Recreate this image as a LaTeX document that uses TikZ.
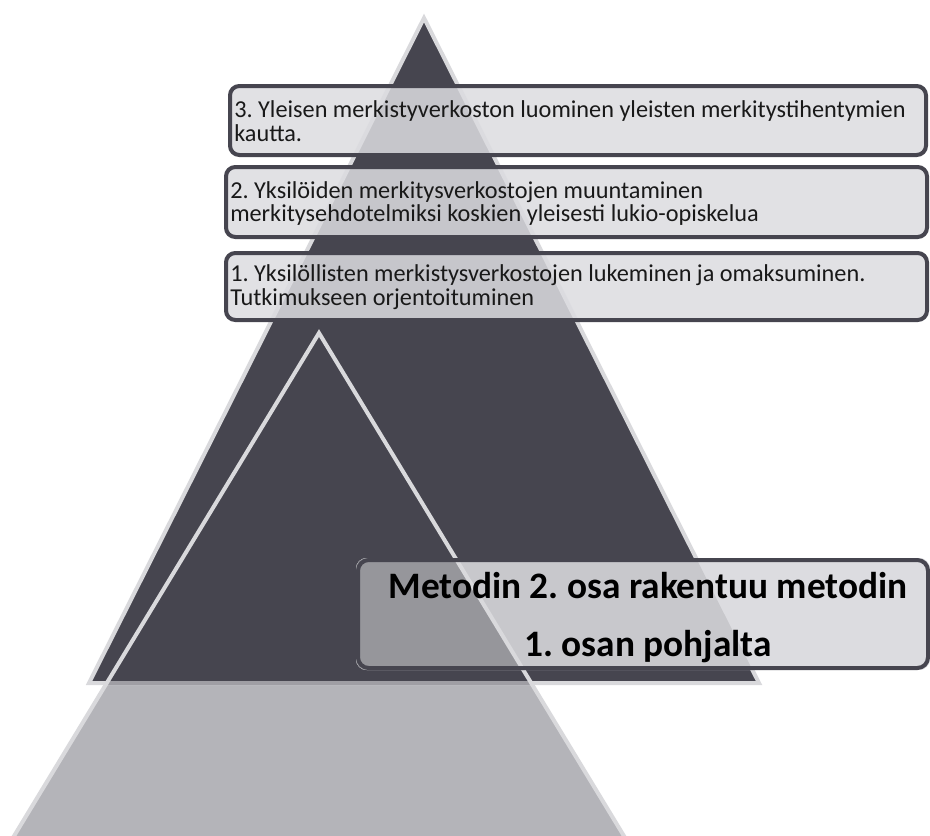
\documentclass[tikz,border=0pt]{standalone}
\usepackage{fontspec}
\setmainfont{Carlito}
\definecolor{darktri}{HTML}{46454F}
\definecolor{edgelight}{HTML}{D9D9DC}
\definecolor{greytri}{HTML}{B4B4B9}
\definecolor{boxfill}{HTML}{DCDCE0}
\definecolor{boxmid}{HTML}{C8C8CC}
\definecolor{boxdark}{HTML}{96969B}
\definecolor{stripgrey}{HTML}{9F9EA4}
\begin{document}
\frenchspacing
\begin{tikzpicture}[x=0.75pt,y=-0.75pt,
  stepbox/.style={draw=darktri, line width=3pt, rounded corners=7pt,
    fill=boxfill, fill opacity=0.86, anchor=north west, inner sep=0pt},
  steptext/.style={anchor=west, inner sep=0pt, align=left, text=black!90,
    font=\fontsize{18.2}{17.4}\selectfont\frenchspacing},
  methodbox/.style={draw=darktri, line width=3pt, rounded corners=8pt,
    minimum width=427.5pt, minimum height=81pt, inner sep=0pt},
  methodtext/.style={align=center, text=black, inner sep=0pt,
    font=\fontsize{28}{43.5}\selectfont\bfseries\frenchspacing}]
\useasboundingbox (0,0) rectangle (930,835);
\clip (0,0) rectangle (930,835);
% coordinates
\coordinate (ga) at (319,333);
\coordinate (gl) at (-46,935);
\coordinate (gr) at (684,935);
\coordinate (da) at (424,18);
\coordinate (dl) at (89,683);
\coordinate (dr) at (759,683);
% lower grey triangle
\fill[greytri] (ga) -- (gl) -- (gr) -- cycle;
% big dark triangle
\filldraw[fill=darktri, draw=edgelight, line width=3pt, line join=miter]
  (da) -- (dl) -- (dr) -- cycle;
\begin{scope}
  \clip (ga) -- (gl) -- (gr) -- cycle;
  \draw[stripgrey, line width=3pt] (dl) -- (dr);
\end{scope}
% outline of the lower triangle
\draw[edgelight, line width=3pt, line join=miter] (gl) -- (ga) -- (gr);
% three step boxes
\node[stepbox, minimum width=522pt, minimum height=51.75pt] (s3) at (228,84) {};
\node[stepbox, minimum width=525.75pt, minimum height=52.5pt] (s2) at (224,165) {};
\node[stepbox, minimum width=525.75pt, minimum height=50.25pt] (s1) at (224,251) {};
\node[steptext] (t3) at ([xshift=4.5pt,yshift=-0.5pt]s3.west)
  {3. Yleisen merkistyverkoston luominen yleisten merkitystihentymien\\kautta.};
\node[steptext] (t2) at ([xshift=4.5pt,yshift=-1pt]s2.west)
  {2. Yksilöiden merkitysverkostojen muuntaminen\\merkitysehdotelmiksi koskien yleisesti lukio-opiskelua};
\node[steptext] (t1) at ([xshift=4.5pt,yshift=-0.5pt]s1.west)
  {1. Yksilöllisten merkistysverkostojen lukeminen ja omaksuminen.\\Tutkimukseen orjentoituminen};
% method box
\path node[methodbox, draw=none] (m) at (643,614) {};
\begin{scope}
  \clip[rounded corners=8pt] (m.south west) rectangle (m.north east);
  \fill[boxfill] (m.south west) rectangle (m.north east);
  \fill[boxmid] (da) -- (dl) -- (dr) -- cycle;
  \fill[boxdark] (ga) -- (gl) -- (gr) -- cycle;
  \draw[edgelight, line width=3pt] (gl) -- (ga) -- (gr);
\end{scope}
\node[methodbox] (mb) at (643,614) {};
\node[methodtext] (mt) at (648,618) {Metodin 2. osa rakentuu metodin\\1. osan pohjalta};
\end{tikzpicture}
\end{document}
